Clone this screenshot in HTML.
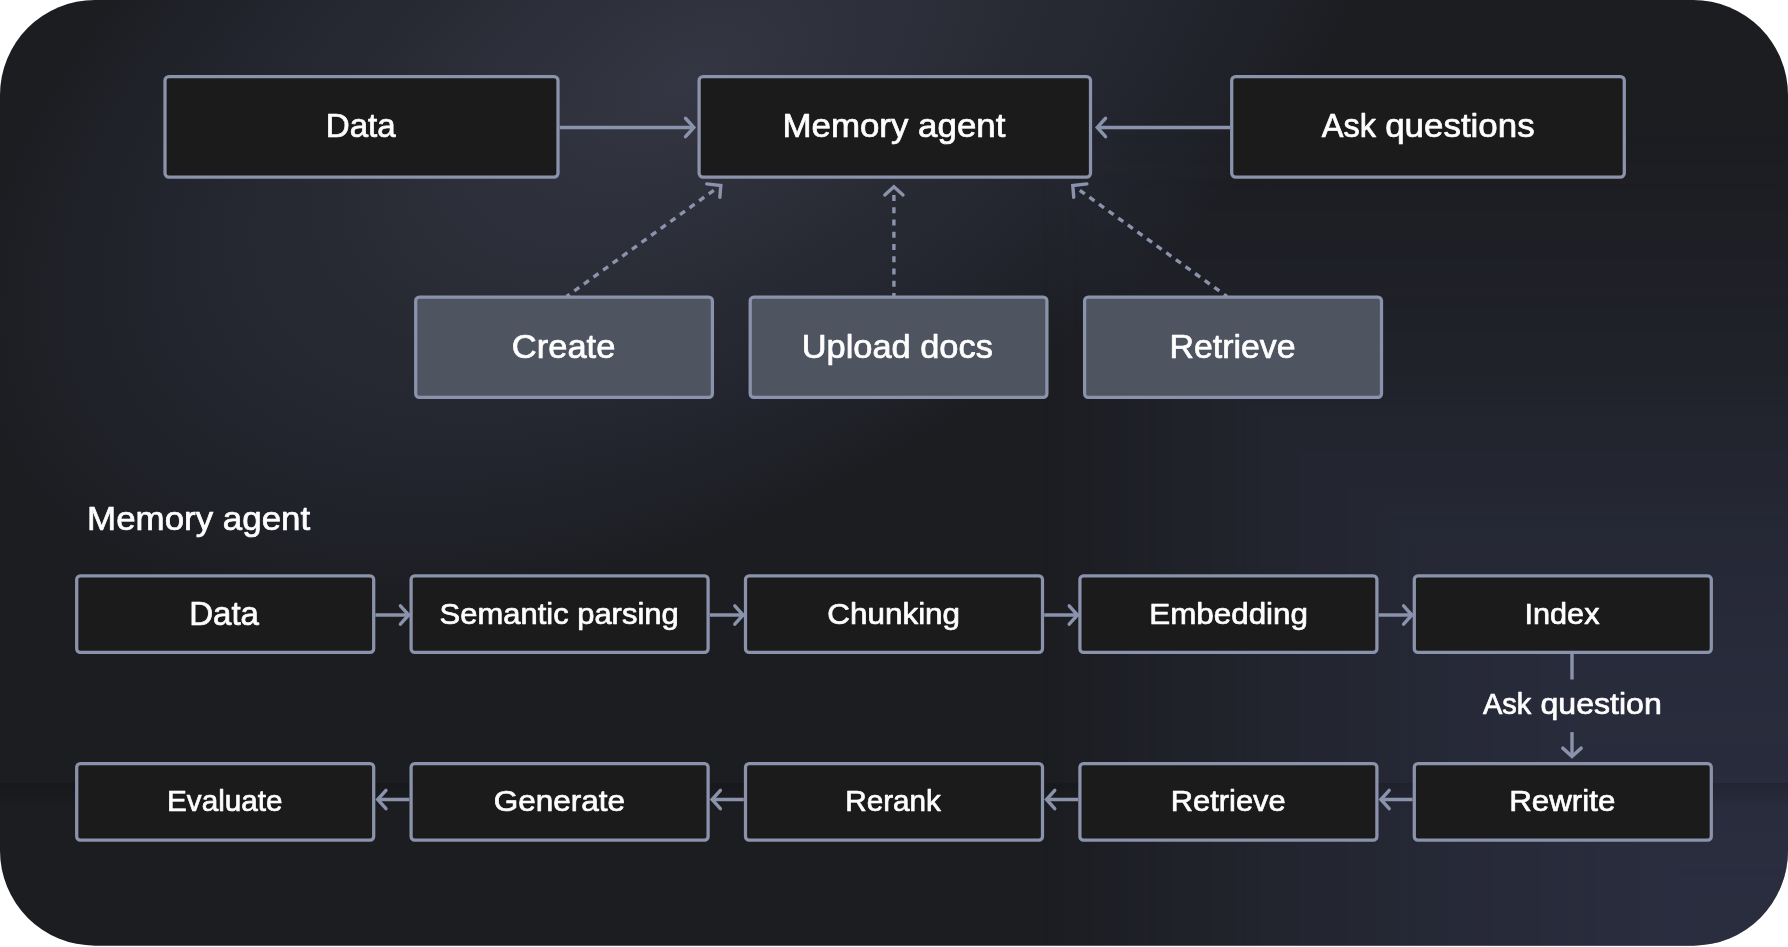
<!DOCTYPE html>
<html lang="en"><head><meta charset="utf-8"><title>Memory agent</title>
<style>
html,body{margin:0;padding:0;background:#fff;}
body{width:1788px;height:947px;overflow:hidden;position:relative;}
svg{position:absolute;left:0;top:0;}
</style></head><body>
<svg width="1788" height="947" viewBox="0 0 1788 947">
<defs>
<clipPath id="clip"><rect x="0" y="0" width="1788" height="945.7" rx="95" ry="95"/></clipPath>
<radialGradient id="band" gradientUnits="userSpaceOnUse" cx="0" cy="0" r="1" gradientTransform="translate(684.6 79.8) rotate(151.4) scale(778 431)">
<stop offset="0" stop-color="#6b7391" stop-opacity="0.30"/>
<stop offset="0.5" stop-color="#6a7599" stop-opacity="0.15"/>
<stop offset="0.85" stop-color="#6c84cc" stop-opacity="0.047"/>
<stop offset="1" stop-color="#6c84cc" stop-opacity="0"/>
</radialGradient>
<linearGradient id="bx" gradientUnits="userSpaceOnUse" x1="1040" y1="0" x2="1700" y2="0">
<stop offset="0.0000" stop-color="rgb(0,0,0)"/>
<stop offset="0.0909" stop-color="rgb(33,33,33)"/>
<stop offset="0.2424" stop-color="rgb(84,84,84)"/>
<stop offset="0.3939" stop-color="rgb(128,128,128)"/>
<stop offset="0.5455" stop-color="rgb(166,166,166)"/>
<stop offset="0.6970" stop-color="rgb(204,204,204)"/>
<stop offset="0.8485" stop-color="rgb(235,235,235)"/>
<stop offset="1.0000" stop-color="rgb(255,255,255)"/>
</linearGradient>
<linearGradient id="by" gradientUnits="userSpaceOnUse" x1="0" y1="130" x2="0" y2="900">
<stop offset="0.0000" stop-color="rgb(0,0,0)"/>
<stop offset="0.0909" stop-color="rgb(26,26,26)"/>
<stop offset="0.2857" stop-color="rgb(76,76,76)"/>
<stop offset="0.4805" stop-color="rgb(153,153,153)"/>
<stop offset="0.6753" stop-color="rgb(217,217,217)"/>
<stop offset="0.8701" stop-color="rgb(237,237,237)"/>
<stop offset="1.0000" stop-color="rgb(255,255,255)"/>
</linearGradient>
<mask id="bm" maskUnits="userSpaceOnUse" x="0" y="0" width="1788" height="947"><rect width="1788" height="947" fill="url(#by)"/><polygon points="0.0,0.0 1040.0,0.0 1040.0,130.0 1086.2,200.0 1100.0,222.5 1185.0,350.0 1200.0,365.0 1300.0,450.0 1366.7,500.0 1400.0,530.0 1500.0,620.0 1541.7,650.0 1600.0,781.2 1612.5,800.0 1700.0,900.0 1700.0,947.0 0.0,947.0" fill="url(#bx)"/></mask>
<linearGradient id="hz" gradientUnits="userSpaceOnUse" x1="0" y1="783" x2="0" y2="808">
<stop offset="0" stop-color="#000" stop-opacity="0.16"/>
<stop offset="1" stop-color="#000" stop-opacity="0"/>
</linearGradient>
</defs>
<g clip-path="url(#clip)">
<rect width="1788" height="947" fill="#1c1d21"/>
<rect width="1788" height="947" fill="url(#band)"/>
<rect width="1788" height="947" fill="#3a4262" fill-opacity="0.46" mask="url(#bm)"/>
<rect x="0" y="783" width="1788" height="30" fill="url(#hz)"/>
</g>
<rect x="165.00" y="76.50" width="393.00" height="100.70" rx="4.0" ry="4.0" fill="#1b1b1c" stroke="#8a93ab" stroke-width="3.25"/>
<rect x="699.10" y="76.50" width="391.40" height="100.70" rx="4.0" ry="4.0" fill="#1b1b1c" stroke="#8a93ab" stroke-width="3.25"/>
<rect x="1231.70" y="76.50" width="392.60" height="100.70" rx="4.0" ry="4.0" fill="#1b1b1c" stroke="#8a93ab" stroke-width="3.25"/>
<rect x="415.70" y="297.20" width="296.70" height="100.10" rx="3.6" ry="3.6" fill="#4f5461" stroke="#8a93ab" stroke-width="3.25"/>
<rect x="750.20" y="297.20" width="296.70" height="100.10" rx="3.6" ry="3.6" fill="#4f5461" stroke="#8a93ab" stroke-width="3.25"/>
<rect x="1084.60" y="297.20" width="296.90" height="100.10" rx="3.6" ry="3.6" fill="#4f5461" stroke="#8a93ab" stroke-width="3.25"/>
<rect x="76.70" y="575.90" width="297.00" height="76.50" rx="3.6" ry="3.6" fill="#1b1b1c" stroke="#8a93ab" stroke-width="3.25"/>
<rect x="411.10" y="575.90" width="297.00" height="76.50" rx="3.6" ry="3.6" fill="#1b1b1c" stroke="#8a93ab" stroke-width="3.25"/>
<rect x="745.50" y="575.90" width="297.00" height="76.50" rx="3.6" ry="3.6" fill="#1b1b1c" stroke="#8a93ab" stroke-width="3.25"/>
<rect x="1079.90" y="575.90" width="297.00" height="76.50" rx="3.6" ry="3.6" fill="#1b1b1c" stroke="#8a93ab" stroke-width="3.25"/>
<rect x="1414.30" y="575.90" width="297.00" height="76.50" rx="3.6" ry="3.6" fill="#1b1b1c" stroke="#8a93ab" stroke-width="3.25"/>
<rect x="76.70" y="763.60" width="297.00" height="76.50" rx="3.6" ry="3.6" fill="#1b1b1c" stroke="#8a93ab" stroke-width="3.25"/>
<rect x="411.10" y="763.60" width="297.00" height="76.50" rx="3.6" ry="3.6" fill="#1b1b1c" stroke="#8a93ab" stroke-width="3.25"/>
<rect x="745.50" y="763.60" width="297.00" height="76.50" rx="3.6" ry="3.6" fill="#1b1b1c" stroke="#8a93ab" stroke-width="3.25"/>
<rect x="1079.90" y="763.60" width="297.00" height="76.50" rx="3.6" ry="3.6" fill="#1b1b1c" stroke="#8a93ab" stroke-width="3.25"/>
<rect x="1414.30" y="763.60" width="297.00" height="76.50" rx="3.6" ry="3.6" fill="#1b1b1c" stroke="#8a93ab" stroke-width="3.25"/>
<path d="M559.70 127.45L693.50 127.45" fill="none" stroke="#8a93ab" stroke-width="3.4"/>
<path d="M685.52 136.66L693.81 127.45L685.52 118.24" fill="none" stroke="#8a93ab" stroke-width="3.4" stroke-linecap="round" stroke-linejoin="miter"/>
<path d="M1230.00 127.45L1097.60 127.45" fill="none" stroke="#8a93ab" stroke-width="3.4"/>
<path d="M1105.58 118.24L1097.29 127.45L1105.58 136.66" fill="none" stroke="#8a93ab" stroke-width="3.4" stroke-linecap="round" stroke-linejoin="miter"/>
<path d="M713.80 190.30L566.60 296.50" fill="none" stroke="#8a93ab" stroke-width="3.4" stroke-dasharray="6.15 5.7" stroke-dashoffset="0"/>
<path d="M706.70 183.85L720.80 185.60L719.85 197.25" fill="none" stroke="#8a93ab" stroke-width="3.4" stroke-linecap="round" stroke-linejoin="miter"/>
<path d="M1079.80 190.30L1227.00 296.50" fill="none" stroke="#8a93ab" stroke-width="3.4" stroke-dasharray="6.15 5.7" stroke-dashoffset="0"/>
<path d="M1086.90 183.85L1072.80 185.60L1073.75 197.25" fill="none" stroke="#8a93ab" stroke-width="3.4" stroke-linecap="round" stroke-linejoin="miter"/>
<path d="M893.90 195.06L893.90 296.50" fill="none" stroke="#8a93ab" stroke-width="3.4" stroke-dasharray="6.0 6.25" stroke-dashoffset="0"/>
<path d="M884.80 194.90L893.90 186.80L903.00 194.90" fill="none" stroke="#8a93ab" stroke-width="3.4" stroke-linecap="round" stroke-linejoin="miter"/>
<path d="M375.40 615.00L409.40 615.00" fill="none" stroke="#8a93ab" stroke-width="3.4"/>
<path d="M400.42 624.21L408.71 615.00L400.42 605.79" fill="none" stroke="#8a93ab" stroke-width="3.4" stroke-linecap="round" stroke-linejoin="miter"/>
<path d="M709.80 615.00L743.80 615.00" fill="none" stroke="#8a93ab" stroke-width="3.4"/>
<path d="M734.82 624.21L743.11 615.00L734.82 605.79" fill="none" stroke="#8a93ab" stroke-width="3.4" stroke-linecap="round" stroke-linejoin="miter"/>
<path d="M1044.20 615.00L1078.20 615.00" fill="none" stroke="#8a93ab" stroke-width="3.4"/>
<path d="M1069.22 624.21L1077.51 615.00L1069.22 605.79" fill="none" stroke="#8a93ab" stroke-width="3.4" stroke-linecap="round" stroke-linejoin="miter"/>
<path d="M1378.60 615.00L1412.60 615.00" fill="none" stroke="#8a93ab" stroke-width="3.4"/>
<path d="M1403.62 624.21L1411.91 615.00L1403.62 605.79" fill="none" stroke="#8a93ab" stroke-width="3.4" stroke-linecap="round" stroke-linejoin="miter"/>
<path d="M409.40 799.50L377.40 799.50" fill="none" stroke="#8a93ab" stroke-width="3.4"/>
<path d="M385.98 790.29L377.69 799.50L385.98 808.71" fill="none" stroke="#8a93ab" stroke-width="3.4" stroke-linecap="round" stroke-linejoin="miter"/>
<path d="M743.80 799.50L711.80 799.50" fill="none" stroke="#8a93ab" stroke-width="3.4"/>
<path d="M720.38 790.29L712.09 799.50L720.38 808.71" fill="none" stroke="#8a93ab" stroke-width="3.4" stroke-linecap="round" stroke-linejoin="miter"/>
<path d="M1078.20 799.50L1046.20 799.50" fill="none" stroke="#8a93ab" stroke-width="3.4"/>
<path d="M1054.78 790.29L1046.49 799.50L1054.78 808.71" fill="none" stroke="#8a93ab" stroke-width="3.4" stroke-linecap="round" stroke-linejoin="miter"/>
<path d="M1412.60 799.50L1380.60 799.50" fill="none" stroke="#8a93ab" stroke-width="3.4"/>
<path d="M1389.18 790.29L1380.89 799.50L1389.18 808.71" fill="none" stroke="#8a93ab" stroke-width="3.4" stroke-linecap="round" stroke-linejoin="miter"/>
<path d="M1572.00 653.40L1572.00 679.50" fill="none" stroke="#8a93ab" stroke-width="3.4"/>
<path d="M1572.00 732.10L1572.00 757.00" fill="none" stroke="#8a93ab" stroke-width="3.4"/>
<path d="M1562.79 748.12L1572.00 756.41L1581.21 748.12" fill="none" stroke="#8a93ab" stroke-width="3.4" stroke-linecap="round" stroke-linejoin="miter"/>
<g opacity="0.996" fill="#fff" stroke="#fff" stroke-width="0.7" stroke-linejoin="round" font-family='"Liberation Sans", Arial, sans-serif'>
<text x="325.73" y="136.75" font-size="32.4" textLength="69.93" lengthAdjust="spacingAndGlyphs">Data</text>
<text x="782.44" y="136.75" font-size="32.4" textLength="222.94" lengthAdjust="spacingAndGlyphs">Memory agent</text>
<text y="136.75" font-size="32.4"><tspan x="1321.81" textLength="54.12" lengthAdjust="spacingAndGlyphs">Ask</tspan> <tspan x="1385.23" textLength="149.39" lengthAdjust="spacingAndGlyphs">questions</tspan></text>
<text x="511.89" y="357.55" font-size="32.4" textLength="103.46" lengthAdjust="spacingAndGlyphs">Create</text>
<text x="801.80" y="357.55" font-size="32.4" textLength="191.06" lengthAdjust="spacingAndGlyphs">Upload docs</text>
<text x="1169.52" y="357.55" font-size="32.4" textLength="126.12" lengthAdjust="spacingAndGlyphs">Retrieve</text>
<text x="87.13" y="530.25" font-size="32.4" textLength="223.09" lengthAdjust="spacingAndGlyphs">Memory agent</text>
<text x="189.19" y="624.85" font-size="32.4" textLength="69.81" lengthAdjust="spacingAndGlyphs">Data</text>
<text x="439.64" y="624.35" font-size="29.8" textLength="239.05" lengthAdjust="spacingAndGlyphs">Semantic parsing</text>
<text x="827.36" y="624.35" font-size="29.8" textLength="132.69" lengthAdjust="spacingAndGlyphs">Chunking</text>
<text x="1149.28" y="624.35" font-size="29.8" textLength="158.73" lengthAdjust="spacingAndGlyphs">Embedding</text>
<text x="1524.50" y="624.35" font-size="29.8" textLength="74.96" lengthAdjust="spacingAndGlyphs">Index</text>
<text y="714.15" font-size="29.8"><tspan x="1483.04" textLength="48.30" lengthAdjust="spacingAndGlyphs">Ask</tspan> <tspan x="1540.48" textLength="121.28" lengthAdjust="spacingAndGlyphs">question</tspan></text>
<text x="166.96" y="811.45" font-size="29.8" textLength="115.65" lengthAdjust="spacingAndGlyphs">Evaluate</text>
<text x="493.70" y="811.45" font-size="29.8" textLength="131.38" lengthAdjust="spacingAndGlyphs">Generate</text>
<text x="845.26" y="811.45" font-size="29.8" textLength="95.71" lengthAdjust="spacingAndGlyphs">Rerank</text>
<text x="1170.85" y="811.45" font-size="29.8" textLength="114.84" lengthAdjust="spacingAndGlyphs">Retrieve</text>
<text x="1509.16" y="811.45" font-size="29.8" textLength="106.17" lengthAdjust="spacingAndGlyphs">Rewrite</text>
</g>
</svg>
</body></html>
